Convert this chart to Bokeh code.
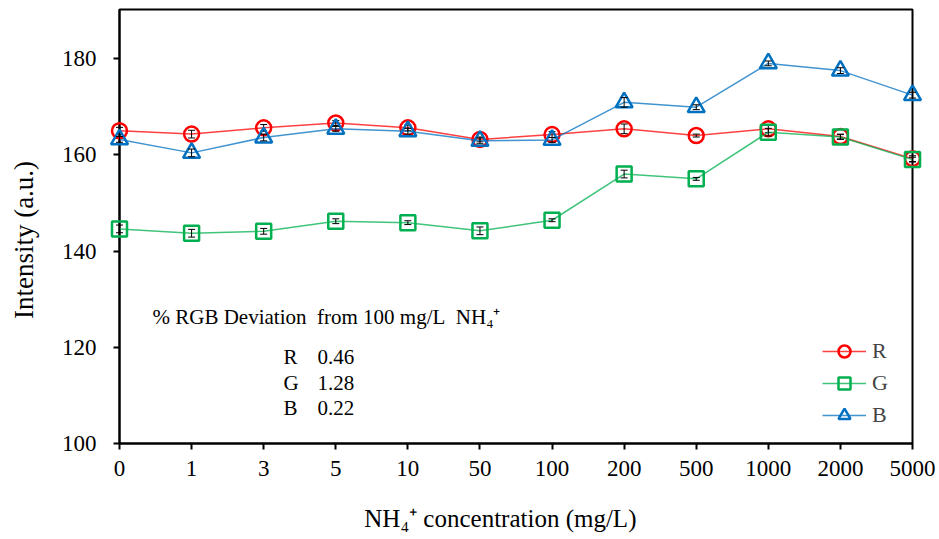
from bokeh.plotting import figure
from bokeh.models import Range1d, FixedTicker, Legend, LegendItem, Label
from bokeh.embed import file_html
from bokeh.resources import INLINE

categories = ["0", "1", "3", "5", "10", "50", "100", "200", "500", "1000", "2000", "5000"]
r_vals = [165.0, 164.3, 165.6, 166.6, 165.6, 163.2, 164.2, 165.4, 164.0, 165.4, 163.8, 159.2]
g_vals = [144.6, 143.7, 144.1, 146.2, 145.9, 144.2, 146.4, 156.0, 155.0, 164.7, 163.7, 159.0]
b_vals = [163.2, 160.4, 163.6, 165.4, 164.9, 162.9, 163.1, 170.9, 169.9, 179.0, 177.5, 172.4]
r_err = [0.7, 0.8, 0.7, 0.5, 0.6, 0.5, 0.6, 1.0, 0.3, 0.8, 0.5, 0.6]
g_err = [0.8, 0.8, 0.6, 0.5, 0.4, 0.8, 0.3, 0.8, 0.3, 0.8, 0.5, 0.5]
b_err = [0.6, 0.8, 0.7, 0.5, 0.6, 0.6, 0.5, 1.0, 0.5, 0.5, 0.6, 0.6]
y_ticks = [100, 120, 140, 160, 180]
deviation_names = ["R", "G", "B"]
deviation_vals = ["0.46", "1.28", "0.22"]

FONT = "Liberation Serif"
NB = "\u00a0"
x = list(range(len(categories)))

p = figure(width=939, height=539, output_backend="svg", toolbar_location=None,
           x_range=Range1d(0, len(categories) - 1), y_range=Range1d(100, 190.2),
           min_border_left=119, min_border_right=27, min_border_top=9, min_border_bottom=96)
p.background_fill_color = "white"
p.border_fill_color = "white"
p.outline_line_color = "black"
p.outline_line_width = 2
p.grid.visible = False

p.xaxis.ticker = FixedTicker(ticks=x)
p.xaxis.major_label_overrides = {i: c for i, c in enumerate(categories)}
p.yaxis.ticker = FixedTicker(ticks=y_ticks)
for ax in (p.xaxis[0], p.yaxis[0]):
    ax.axis_line_width = 2
    ax.axis_line_color = "black"
    ax.major_tick_line_width = 2
    ax.major_tick_line_color = "black"
    ax.major_tick_in = 0
    ax.major_tick_out = 6
    ax.minor_tick_line_color = None
    ax.major_label_text_font = FONT
    ax.major_label_text_font_size = "23px"
    ax.major_label_text_color = "black"
    ax.axis_label_text_font = FONT
    ax.axis_label_text_font_style = "normal"
    ax.axis_label_text_color = "black"

p.xaxis.axis_label = "NH\u2084\u207a concentration (mg/L)" + NB * 5
p.xaxis.axis_label_text_font_size = "25px"
p.xaxis.major_label_standoff = 11
p.xaxis.axis_label_standoff = 26
p.yaxis.axis_label = "Intensity (a.u.)" + NB * 4
p.yaxis.axis_label_text_font_size = "27px"
p.yaxis.major_label_standoff = 17
p.yaxis.axis_label_standoff = 20

series = [
    ("R", r_vals, r_err, "#FF0000", "circle", 15),
    ("G", g_vals, g_err, "#00B050", "square", 15),
    ("B", b_vals, b_err, "#0070C0", "triangle", 17),
]
items = []
for name, vals, err, color, marker, size in series:
    ln = p.line(x, vals, line_color=color, line_width=1.5, line_alpha=0.75, level="overlay")
    sc = p.scatter(x, vals, marker=marker, size=size, line_color=color, line_width=2.5,
                   fill_alpha=0, level="overlay")
    lo = [v - e for v, e in zip(vals, err)]
    hi = [v + e for v, e in zip(vals, err)]
    p.segment(x0=x, y0=lo, x1=x, y1=hi, line_color="black", line_width=1, level="overlay")
    p.scatter(x, lo, marker="dash", size=7, line_color="black", line_width=1, level="overlay")
    p.scatter(x, hi, marker="dash", size=7, line_color="black", line_width=1, level="overlay")
    items.append(LegendItem(label=name, renderers=[ln, sc]))

legend = Legend(items=items, location=(703, 13), padding=0, margin=0, spacing=2,
                glyph_width=44, glyph_height=30, label_standoff=6,
                label_text_font=FONT, label_text_font_size="22px",
                border_line_color=None, background_fill_alpha=0)
p.add_layout(legend, "center")

p.add_layout(Label(x=0.458, y=126.3,
                   text="%" + NB + "RGB Deviation" + NB + NB + "from 100 mg/L" + NB + NB + "NH\u2084\u207a",
                   text_font=FONT, text_font_size="21px", text_baseline="middle",
                   text_align="left", text_color="black"))
row_y = [118.0, 112.6, 107.4]
for nm, vv, yy in zip(deviation_names, deviation_vals, row_y):
    p.add_layout(Label(x=2.275, y=yy, text=nm, text_font=FONT, text_font_size="21px",
                       text_baseline="middle", text_align="left", text_color="black"))
    p.add_layout(Label(x=2.747, y=yy, text=vv, text_font=FONT, text_font_size="21px",
                       text_baseline="middle", text_align="left", text_color="black"))

open("out.html", "w").write(file_html(p, INLINE))
